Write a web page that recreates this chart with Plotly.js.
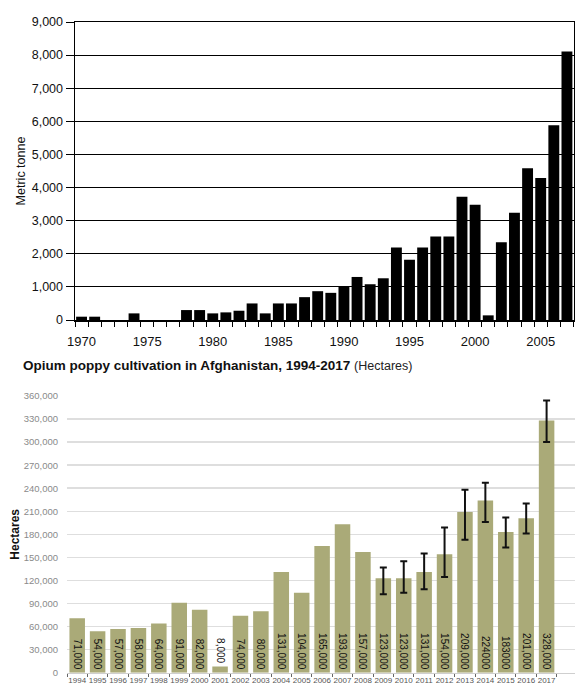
<!DOCTYPE html>
<html>
<head>
<meta charset="utf-8">
<script src="https://cdn.plot.ly/plotly-3.0.1.min.js"></script>
<style>html,body{margin:0;padding:0;background:#fff;}#chart{width:585px;height:700px;}</style>
</head>
<body>
<div id="chart"></div>
<script>
// ---- Top chart: opium production (metric tonnes), 1970-2007 ----
const prodYears = [1970,1971,1972,1973,1974,1975,1976,1977,1978,1979,1980,1981,1982,1983,1984,1985,1986,1987,1988,1989,1990,1991,1992,1993,1994,1995,1996,1997,1998,1999,2000,2001,2002,2003,2004,2005,2006,2007];
const prodTonnes = [100,100,0,0,200,0,0,0,300,300,200,230,280,500,200,500,500,690,870,820,1010,1300,1080,1260,2190,1820,2190,2520,2520,3720,3480,140,2350,3240,4580,4290,5880,8110];
const prodTickYears = [1970,1975,1980,1985,1990,1995,2000,2005];

// ---- Bottom chart: opium poppy cultivation (hectares), 1994-2017 ----
const cultYears = ['1994','1995','1996','1997','1998','1999','2000','2001','2002','2003','2004','2005','2006','2007','2008','2009','2010','2011','2012','2013','2014','2015','2016','2017'];
const cultHectares = [71000,54000,57000,58000,64000,91000,82000,8000,74000,80000,131000,104000,165000,193000,157000,123000,123000,131000,154000,209000,224000,183000,201000,328000];
const cultLabels = ['71,000','54,000','57,000','58,000','64,000','91,000','82,000','8,000','74,000','80,000','131,000','104,000','165,000','193,000','157,000','123,000','123,000','131,000','154,000','209,000','224000','183000','201,000','328,000'];
// uncertainty range (only surveyed from 2009 on)
const errYears     = ['2009','2010','2011','2012','2013','2014','2015','2016','2017'];
const errCentre    = [123000,123000,131000,154000,209000,224000,183000,201000,328000];
const errPlus      = [14000,22000,24000,35000,29000,23000,19000,19000,26000];
const errMinus     = [21000,19000,22500,29500,36000,28000,20000,20000,28000];

const W = 585, H = 700;
const px = v => v / W;
const py = v => 1 - v / H;

const font = 'Liberation Sans, Arial, sans-serif';

const traces = [
  {
    type: 'bar', x: prodYears, y: prodTonnes, xaxis: 'x', yaxis: 'y',
    width: 0.83, marker: {color: '#000', line: {width: 0}},
    hoverinfo: 'x+y'
  },
  {
    type: 'bar', x: cultYears, y: cultHectares, xaxis: 'x2', yaxis: 'y2',
    width: 0.76, marker: {color: '#aaaa78', line: {width: 0}},
    text: cultLabels,
    textposition: cultHectares.map(v => v < 20000 ? 'outside' : 'inside'),
    insidetextanchor: 'start',
    textangle: 90,
    constraintext: 'none',
    cliponaxis: false,
    textfont: {family: font, size: 10, color: '#111'},
    insidetextfont: {family: font, size: 10, color: '#111'},
    outsidetextfont: {family: font, size: 10, color: '#111'}
  },
  {
    type: 'scatter', mode: 'markers', x: errYears, y: errCentre, xaxis: 'x2', yaxis: 'y2',
    marker: {size: 1, opacity: 0},
    error_y: {type: 'data', symmetric: false, array: errPlus, arrayminus: errMinus,
              color: '#111', thickness: 2, width: 3.5}
  }
];

const layout = {
  width: W, height: H,
  margin: {l: 0, r: 0, t: 0, b: 0},
  paper_bgcolor: '#fff', plot_bgcolor: '#fff',
  showlegend: false,
  font: {family: font, color: '#000'},
  title: {
    text: '<b>Opium poppy cultivation in Afghanistan, 1994-2017</b> <span style="font-size:12.5px;color:#222">(Hectares)</span>',
    font: {family: font, size: 13.5, color: '#111'},
    x: px(23), xanchor: 'left', xref: 'paper',
    y: py(365), yanchor: 'middle', yref: 'paper'
  },
  xaxis: {
    domain: [px(75), px(573.5)], anchor: 'y',
    range: [1969.5, 2007.5],
    tickvals: prodTickYears, ticktext: prodTickYears.map(String),
    ticks: 'outside', ticklen: 9, tickcolor: 'rgba(0,0,0,0)',
    showgrid: false, zeroline: false,
    showline: true, linecolor: '#000', linewidth: 1.5, mirror: true,
    minor: {tick0: 1969.5, dtick: 1, ticks: 'outside', ticklen: 5, tickcolor: '#000', tickwidth: 1, showgrid: false},
    tickfont: {family: font, size: 13, color: '#111'}
  },
  yaxis: {
    domain: [py(320), py(22)], anchor: 'x',
    range: [0, 9000], dtick: 1000, tickformat: ',d',
    ticks: 'outside', ticklen: 8, tickcolor: '#000',
    showgrid: true, gridcolor: '#000', gridwidth: 1,
    zeroline: false,
    showline: true, linecolor: '#000', linewidth: 1.5, mirror: true,
    tickfont: {family: font, size: 12.5, color: '#111'},
    title: {text: 'Metric tonne', font: {family: font, size: 12.5, color: '#111'}, standoff: 3}
  },
  xaxis2: {
    domain: [px(67), px(575)], anchor: 'y2',
    type: 'category',
    tickson: 'boundaries', ticks: 'outside', ticklen: 3, tickcolor: '#666',
    showgrid: false, zeroline: false,
    showline: true, linecolor: '#cfcfcf', linewidth: 1,
    tickfont: {family: font, size: 8, color: '#555'},
    tickangle: 0
  },
  yaxis2: {
    domain: [py(672.7), py(396)], anchor: 'x2',
    range: [0, 360000], dtick: 30000, tickformat: ',d',
    ticks: 'outside', ticklen: 6, tickcolor: 'rgba(0,0,0,0)',
    showgrid: true, gridcolor: '#dedede', gridwidth: 1.5,
    zeroline: false, showline: false,
    tickfont: {family: font, size: 9.5, color: '#8a8a8a'},
    title: {text: '<b>Hectares</b>', font: {family: font, size: 12, color: '#111'}, standoff: 1}
  }
};

Plotly.newPlot('chart', traces, layout, {displayModeBar: false, staticPlot: true});
</script>
</body>
</html>
